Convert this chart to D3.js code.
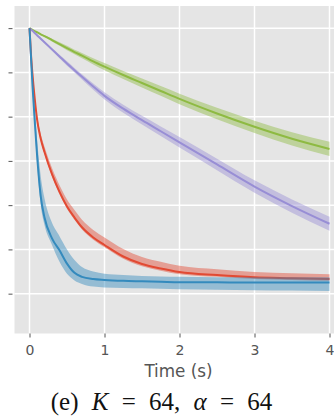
<!DOCTYPE html>
<html>
<head>
<meta charset="utf-8">
<script src="https://cdn.jsdelivr.net/npm/d3@7"></script>
<style>
  body { margin: 0; background: #fff; }
  svg { display: block; }
</style>
</head>
<body>
<svg id="chart"></svg>
<script>
// time samples (s)
var times = [0, 0.02, 0.04, 0.07, 0.1, 0.15, 0.2, 0.3, 0.4, 0.5, 0.6, 0.7, 0.85, 1.0, 1.25, 1.5, 1.75, 2.0, 2.5, 3.0, 3.5, 4.0];

// series: mean, lower and upper edge of the band
var greenMean = [6, 5.98, 5.96, 5.93, 5.91, 5.86, 5.82, 5.73, 5.64, 5.55, 5.46, 5.38, 5.25, 5.13, 4.94, 4.76, 4.58, 4.4, 4.07, 3.77, 3.5, 3.27];
var greenLo   = [6, 5.98, 5.96, 5.92, 5.9, 5.85, 5.8, 5.7, 5.6, 5.5, 5.41, 5.32, 5.18, 5.05, 4.85, 4.66, 4.47, 4.28, 3.94, 3.63, 3.35, 3.11];
var greenHi   = [6, 5.98, 5.96, 5.94, 5.92, 5.87, 5.84, 5.76, 5.68, 5.6, 5.51, 5.44, 5.32, 5.21, 5.03, 4.86, 4.69, 4.52, 4.2, 3.91, 3.65, 3.43];

var purpleMean = [6, 5.97, 5.94, 5.89, 5.84, 5.76, 5.68, 5.52, 5.36, 5.2, 5.05, 4.9, 4.68, 4.47, 4.18, 3.92, 3.67, 3.42, 2.92, 2.42, 1.98, 1.58];
var purpleLo   = [6, 5.97, 5.94, 5.88, 5.83, 5.75, 5.66, 5.49, 5.32, 5.15, 5.0, 4.84, 4.61, 4.39, 4.09, 3.82, 3.56, 3.3, 2.79, 2.28, 1.83, 1.42];
var purpleHi   = [6, 5.97, 5.94, 5.9, 5.85, 5.77, 5.7, 5.55, 5.4, 5.25, 5.1, 4.96, 4.75, 4.55, 4.27, 4.02, 3.78, 3.54, 3.05, 2.56, 2.13, 1.74];

var redMean = [6, 5.4, 4.95, 4.4, 3.95, 3.5, 3.2, 2.7, 2.3, 1.97, 1.72, 1.5, 1.27, 1.1, 0.84, 0.67, 0.57, 0.49, 0.42, 0.37, 0.35, 0.33];
var redLo   = [6, 5.38, 4.92, 4.36, 3.91, 3.45, 3.15, 2.65, 2.25, 1.92, 1.67, 1.45, 1.22, 1.05, 0.79, 0.62, 0.52, 0.44, 0.38, 0.33, 0.31, 0.29];
var redHi   = [6, 5.43, 5.0, 4.47, 4.04, 3.6, 3.32, 2.84, 2.45, 2.13, 1.89, 1.67, 1.44, 1.27, 1.01, 0.83, 0.72, 0.63, 0.55, 0.49, 0.46, 0.44];

var blueMean = [6, 5.35, 4.7, 3.9, 3.15, 2.2, 1.72, 1.25, 0.98, 0.68, 0.47, 0.38, 0.33, 0.31, 0.29, 0.28, 0.27, 0.26, 0.26, 0.25, 0.25, 0.25];
var blueLo   = [6, 5.3, 4.6, 3.75, 2.95, 2.0, 1.55, 1.1, 0.72, 0.45, 0.3, 0.22, 0.16, 0.14, 0.13, 0.12, 0.11, 0.1, 0.09, 0.08, 0.07, 0.06];
var blueHi   = [6, 5.45, 4.9, 4.15, 3.5, 2.65, 2.15, 1.6, 1.3, 1.0, 0.76, 0.6, 0.5, 0.45, 0.42, 0.4, 0.39, 0.38, 0.37, 0.37, 0.37, 0.37];

var xTicks = [0, 1, 2, 3, 4];
var yTicks = [0, 1, 2, 3, 4, 5, 6];
var xLabel = 'Time (s)';

var series = [
    { mean: greenMean, lo: greenLo, hi: greenHi, color: '#8EBA42' },
    { mean: purpleMean, lo: purpleLo, hi: purpleHi, color: '#988ED5' },
    { mean: redMean, lo: redLo, hi: redHi, color: '#E24A33' },
    { mean: blueMean, lo: blueLo, hi: blueHi, color: '#348ABD' }
];

var svgWidth = 334;
var svgHeight = 417;

var svg = d3.select('#chart')
    .attr('width', svgWidth)
    .attr('height', svgHeight);

var xScale = d3.scaleLinear()
    .domain([-0.2, 4.2])
    .range([14.5, 344.5]);

var yScale = d3.scaleLinear()
    .domain([-0.9, 6.5])
    .range([333.5, 6]);

// panel background
svg.append('rect')
    .attr('x', xScale(-0.2))
    .attr('y', yScale(6.5))
    .attr('width', xScale(4.2) - xScale(-0.2))
    .attr('height', yScale(-0.9) - yScale(6.5))
    .attr('fill', '#E5E5E5');

// grid
svg.append('g')
    .selectAll('line')
    .data(xTicks)
    .enter()
    .append('line')
    .attr('x1', function (d) { return xScale(d); })
    .attr('x2', function (d) { return xScale(d); })
    .attr('y1', yScale(6.5))
    .attr('y2', yScale(-0.9))
    .attr('stroke', '#fff')
    .attr('stroke-width', 1.5);

svg.append('g')
    .selectAll('line')
    .data(yTicks)
    .enter()
    .append('line')
    .attr('y1', function (d) { return yScale(d); })
    .attr('y2', function (d) { return yScale(d); })
    .attr('x1', xScale(-0.2))
    .attr('x2', xScale(4.2))
    .attr('stroke', '#fff')
    .attr('stroke-width', 1.5);

// bands and lines
var area = d3.area()
    .x(function (d) { return xScale(d.t); })
    .y0(function (d) { return yScale(d.lo); })
    .y1(function (d) { return yScale(d.hi); })
    .curve(d3.curveMonotoneX);

var line = d3.line()
    .x(function (d) { return xScale(d.t); })
    .y(function (d) { return yScale(d.m); })
    .curve(d3.curveMonotoneX);

series.forEach(function (s) {
    var pts = times.map(function (t, i) {
        return { t: t, m: s.mean[i], lo: s.lo[i], hi: s.hi[i] };
    });
    svg.append('path')
        .datum(pts)
        .attr('d', area)
        .attr('fill', s.color)
        .attr('fill-opacity', 0.45);
    svg.append('path')
        .datum(pts)
        .attr('d', line)
        .attr('fill', 'none')
        .attr('stroke', s.color)
        .attr('stroke-width', 2);
});

// axes
var xAxis = d3.axisBottom(xScale)
    .tickValues(xTicks)
    .tickSize(4)
    .tickPadding(7.5)
    .tickFormat(d3.format('d'));

var yAxis = d3.axisLeft(yScale)
    .tickValues(yTicks)
    .tickSize(4)
    .tickFormat('');

var gx = svg.append('g')
    .attr('transform', 'translate(0,333.5)')
    .call(xAxis);

var gy = svg.append('g')
    .attr('transform', 'translate(12.5,0)')
    .call(yAxis);

[gx, gy].forEach(function (g) {
    g.select('.domain').remove();
    g.selectAll('line').attr('stroke', '#555');
    g.selectAll('text')
        .attr('fill', '#555')
        .attr('font-family', 'DejaVu Sans')
        .attr('font-size', 14);
});

svg.append('text')
    .attr('x', 178.5)
    .attr('y', 377)
    .attr('text-anchor', 'middle')
    .attr('fill', '#555')
    .attr('font-family', 'DejaVu Sans')
    .attr('font-size', 16.8)
    .text(xLabel);

// caption
var caption = svg.append('text')
    .attr('x', 161.5)
    .attr('y', 410)
    .attr('text-anchor', 'middle')
    .attr('fill', '#111')
    .attr('font-family', "'Liberation Serif', 'Times New Roman', serif")
    .attr('font-size', 25)
    .attr('word-spacing', 7);

caption.append('tspan').text('(e) ');
caption.append('tspan').attr('font-style', 'italic').text('K');
caption.append('tspan').text(' = 64, ');
caption.append('tspan').attr('font-style', 'italic').text('α');
caption.append('tspan').text(' = 64');
</script>
</body>
</html>
